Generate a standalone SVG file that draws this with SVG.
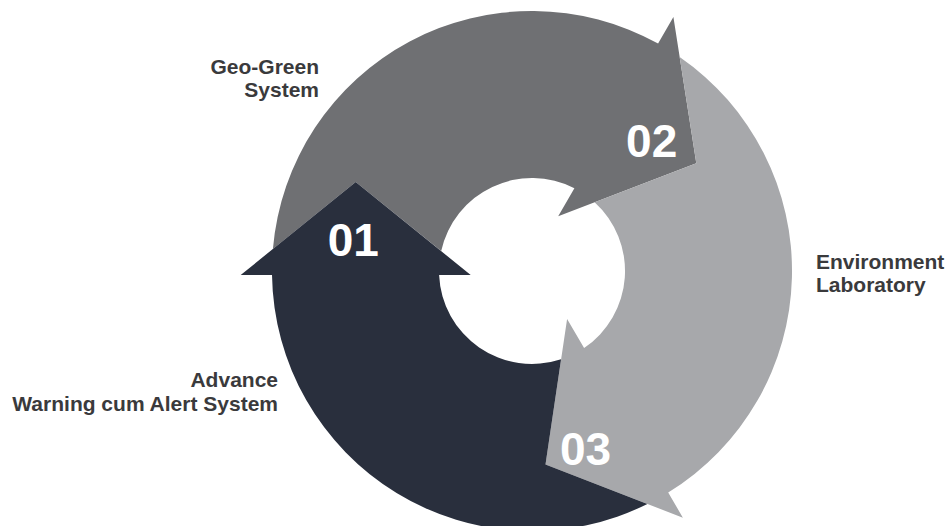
<svg xmlns="http://www.w3.org/2000/svg" width="949" height="526" viewBox="0 0 949 526">
  <style>
    .num { font-family: "Liberation Sans", Arial, sans-serif; font-weight: bold; font-size: 46px; fill: #ffffff; text-anchor: middle; }
    .lbl { font-family: "Liberation Sans", Arial, sans-serif; font-weight: bold; font-size: 21px; fill: #3a3a3c; }
    .dark { fill: #292f3d; }
    .mid { fill: #6f7073; }
    .light { fill: #a7a8ab; }
  </style>
  <rect width="949" height="526" fill="#ffffff"/>
  <g id="connectors"></g>
  <g id="node-02">
    <path class="mid" d="M 272.9 248.9 A 260 260 0 0 1 658.1 43.6 L 673.4 17.1 L 696.3 163.2 L 558.2 216.2 L 574.4 188.2 A 93 93 0 0 0 441.2 251.1 L 355.7 182 Z"/>
    <text class="num" x="651.7" y="156.7">02</text>
    <text class="lbl" text-anchor="end" x="319" y="74">Geo-Green</text>
    <text class="lbl" text-anchor="end" x="319" y="97">System</text>
  </g>
  <g id="node-03">
    <path class="light" d="M 679.65 57 A 260 260 0 0 1 668.2 492.5 L 682.9 517.7 L 545.5 464.5 L 567.1 318.9 L 584.1 348.05 A 93 93 0 0 0 594.6 202.2 L 696.3 163.2 Z"/>
    <text class="num" x="585.5" y="464.5">03</text>
    <text class="lbl" x="816" y="269">Environment</text>
    <text class="lbl" x="816" y="292">Laboratory</text>
  </g>
  <g id="node-01">
    <path class="dark" d="M 647.4 504 A 260 260 0 0 1 272 275 L 240.7 275 L 355.7 182 L 470.7 275 L 439.1 275 A 93 93 0 0 0 561.1 359.3 L 545.5 464.5 Z"/>
    <text class="num" x="353.3" y="256">01</text>
    <text class="lbl" text-anchor="end" x="278" y="387">Advance</text>
    <text class="lbl" text-anchor="end" x="278" y="411">Warning cum Alert System</text>
  </g>
</svg>
